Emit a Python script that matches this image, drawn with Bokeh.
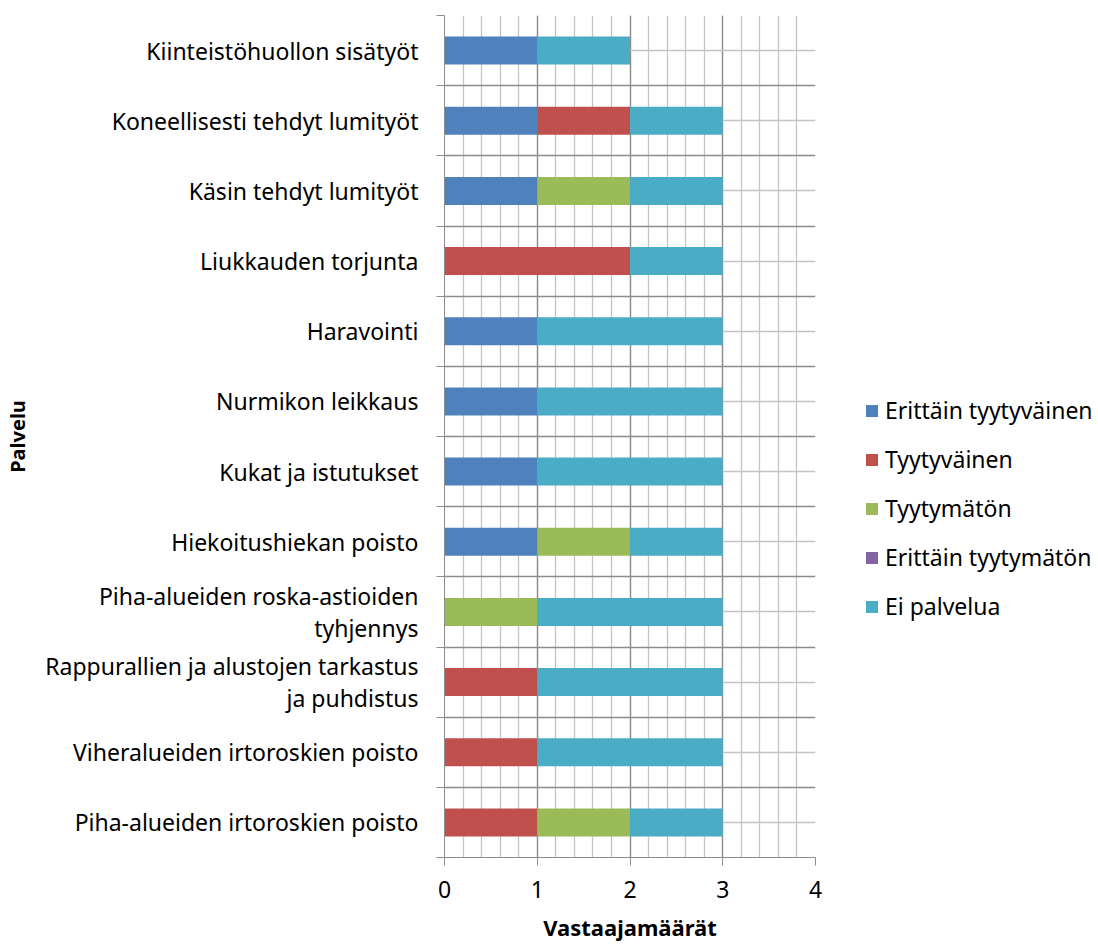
from bokeh.plotting import figure
from bokeh.models import FixedTicker, Legend, LegendItem, ColumnDataSource
from bokeh.embed import file_html
from bokeh.resources import INLINE

# Categories listed top to bottom as displayed
categories = [
    "Kiinteistöhuollon sisätyöt",
    "Koneellisesti tehdyt lumityöt",
    "Käsin tehdyt lumityöt",
    "Liukkauden torjunta",
    "Haravointi",
    "Nurmikon leikkaus",
    "Kukat ja istutukset",
    "Hiekoitushiekan poisto",
    "Piha-alueiden roska-astioiden\ntyhjennys",
    "Rappurallien ja alustojen tarkastus\nja puhdistus",
    "Viheralueiden irtoroskien poisto",
    "Piha-alueiden irtoroskien poisto",
]
series_names = ["Erittäin tyytyväinen", "Tyytyväinen", "Tyytymätön", "Erittäin tyytymätön", "Ei palvelua"]
erittain_tyytyvainen = [1, 1, 1, 0, 1, 1, 1, 1, 0, 0, 0, 0]
tyytyvainen =          [0, 1, 0, 2, 0, 0, 0, 0, 0, 1, 1, 1]
tyytymaton =           [0, 0, 1, 0, 0, 0, 0, 1, 1, 0, 0, 1]
erittain_tyytymaton =  [0, 0, 0, 0, 0, 0, 0, 0, 0, 0, 0, 0]
ei_palvelua =          [1, 1, 1, 1, 2, 2, 2, 1, 2, 2, 2, 1]
x_ticks = [0, 1, 2, 3, 4]

colors = ["#4F81BD", "#C0504D", "#9BBB59", "#8064A2", "#4BACC6"]
FONT = "Noto Sans"
FS = "23px"

n = len(categories)
centers = [n - 0.5 - i for i in range(n)]
boundaries = list(range(n + 1))

keys = ["s0", "s1", "s2", "s3", "s4"]
data = dict(y=centers, s0=erittain_tyytyvainen, s1=tyytyvainen, s2=tyytymaton,
            s3=erittain_tyytymaton, s4=ei_palvelua)
source = ColumnDataSource(data)

p = figure(frame_width=371, frame_height=842, x_range=(0, 4), y_range=(0, n),
           output_backend="svg", toolbar_location=None,
           min_border_left=444, min_border_right=283, min_border_top=15, min_border_bottom=88)
p.outline_line_color = None
p.background_fill_color = "white"
p.border_fill_color = "white"

renderers = p.hbar_stack(keys, y="y", height=0.4, color=colors, source=source, line_color=None)

# grids
p.xgrid.ticker = FixedTicker(ticks=x_ticks, minor_ticks=[i * 0.2 for i in range(21)])
p.xgrid.grid_line_color = "#8C8C8C"
p.xgrid.grid_line_width = 1.3
p.xgrid.minor_grid_line_color = "#C4C4C4"
p.xgrid.minor_grid_line_width = 1.3
p.ygrid.ticker = FixedTicker(ticks=boundaries, minor_ticks=centers)
p.ygrid.grid_line_color = "#8C8C8C"
p.ygrid.grid_line_width = 1.3
p.ygrid.minor_grid_line_color = "#C4C4C4"
p.ygrid.minor_grid_line_width = 1.3
p.xgrid.level = "underlay"
p.ygrid.level = "underlay"

# y axis
ya = p.yaxis[0]
ya.ticker = FixedTicker(ticks=centers, minor_ticks=boundaries)
ya.major_label_overrides = {c: lab for c, lab in zip(centers, categories)}
ya.major_tick_line_color = None
ya.major_tick_out = 0
ya.major_tick_in = 0
ya.minor_tick_line_color = "#8C8C8C"
ya.minor_tick_out = 8
ya.minor_tick_in = 0
ya.axis_line_color = "#8C8C8C"
ya.major_label_text_font = FONT
ya.major_label_text_font_size = FS
ya.major_label_text_color = "#000000"
ya.major_label_text_line_height = 1.0
ya.major_label_text_align = "center"
ya.major_label_standoff = 18
ya.axis_label = "Palvelu"
ya.axis_label_text_font = FONT
ya.axis_label_text_font_size = "20px"
ya.axis_label_text_font_style = "bold"
ya.axis_label_text_color = "#000000"
ya.axis_label_standoff = 11

# x axis
xa = p.xaxis[0]
xa.ticker = FixedTicker(ticks=x_ticks)
xa.minor_tick_line_color = None
xa.major_tick_line_color = "#8C8C8C"
xa.major_tick_out = 8
xa.major_tick_in = 0
xa.axis_line_color = "#8C8C8C"
xa.major_label_text_font = FONT
xa.major_label_text_font_size = FS
xa.major_label_text_color = "#000000"
xa.major_label_standoff = 15
xa.axis_label = "Vastaajamäärät"
xa.axis_label_text_font = FONT
xa.axis_label_text_font_size = "22px"
xa.axis_label_text_font_style = "bold"
xa.axis_label_text_color = "#000000"
xa.axis_label_standoff = 11

items = [LegendItem(label=name, renderers=[r]) for name, r in zip(series_names, renderers)]
legend = Legend(items=items, location=(49, 235), border_line_color=None,
                background_fill_alpha=0, glyph_width=15, glyph_height=15,
                label_text_font=FONT, label_text_font_size=FS, label_text_color="#000000",
                label_standoff=6, spacing=17, margin=0, padding=0, label_height=24)
p.add_layout(legend, "right")

open("out.html", "w").write(file_html(p, INLINE))
